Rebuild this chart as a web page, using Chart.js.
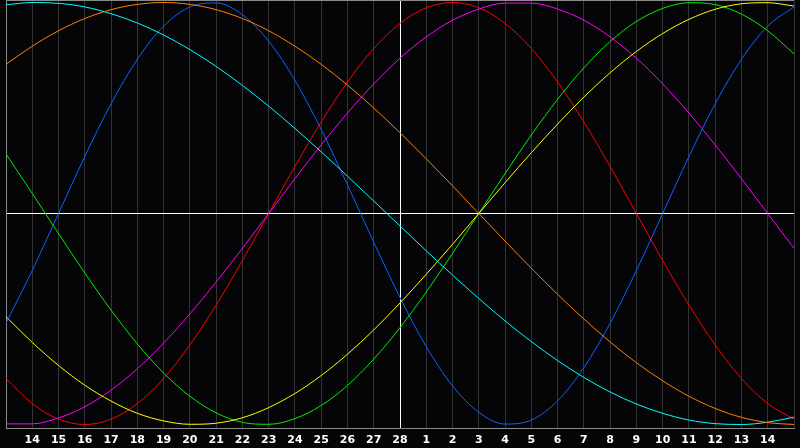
<!DOCTYPE html>
<html>
<head>
<meta charset="utf-8">
<script src="https://cdn.jsdelivr.net/npm/chart.js@4.4.1/dist/chart.umd.min.js"></script>
<style>
html,body{margin:0;padding:0;background:#050508;}
canvas{display:block;}
</style>
</head>
<body>
<canvas id="c" width="800" height="448"></canvas>
<script>
// Day offsets relative to the centre day (28)
const days = [-15,-14,-13,-12,-11,-10,-9,-8,-7,-6,-5,-4,-3,-2,-1,0,1,2,3,4,5,6,7,8,9,10,11,12,13,14,15];
// Tick labels for days -14..14
const tickLabels = ['14','15','16','17','18','19','20','21','22','23','24','25','26','27','28','1','2','3','4','5','6','7','8','9','10','11','12','13','14'];

const blueVals    = [-0.520,-0.270,0,0.270,0.520,0.731,0.888,0.979,0.998,0.942,0.817,0.631,0.398,0.136,-0.136,-0.398,-0.631,-0.817,-0.942,-0.998,-0.979,-0.888,-0.731,-0.520,-0.270,0,0.270,0.520,0.731,0.888,0.979];
const redVals     = [-0.782,-0.901,-0.975,-1,-0.975,-0.901,-0.782,-0.623,-0.434,-0.223,0,0.223,0.434,0.623,0.782,0.901,0.975,1,0.975,0.901,0.782,0.623,0.434,0.223,0,-0.223,-0.434,-0.623,-0.782,-0.901,-0.975];
const greenVals   = [0.282,0.095,-0.095,-0.282,-0.458,-0.618,-0.756,-0.866,-0.945,-0.990,-0.999,-0.972,-0.910,-0.815,-0.690,-0.541,-0.372,-0.189,0,0.189,0.372,0.541,0.690,0.815,0.910,0.972,0.999,0.990,0.945,0.866,0.756];
const magentaVals = [-0.997,-0.997,-0.969,-0.916,-0.837,-0.736,-0.614,-0.476,-0.325,-0.165,0,0.165,0.325,0.476,0.614,0.736,0.837,0.916,0.969,0.997,0.997,0.969,0.916,0.837,0.736,0.614,0.476,0.325,0.165,0,-0.165];
const yellowVals  = [-0.489,-0.611,-0.720,-0.814,-0.889,-0.947,-0.983,-0.999,-0.994,-0.968,-0.920,-0.853,-0.768,-0.667,-0.552,-0.424,-0.288,-0.146,0,0.146,0.288,0.424,0.552,0.667,0.768,0.853,0.920,0.968,0.994,0.999,0.983];
const orangeVals  = [0.707,0.793,0.866,0.924,0.966,0.991,1,0.991,0.966,0.924,0.866,0.793,0.707,0.609,0.5,0.383,0.259,0.131,0,-0.131,-0.259,-0.383,-0.5,-0.609,-0.707,-0.793,-0.866,-0.924,-0.966,-0.991,-1];
const cyanVals    = [0.989,1.000,0.996,0.979,0.947,0.903,0.846,0.777,0.697,0.607,0.509,0.403,0.292,0.177,0.059,-0.059,-0.177,-0.292,-0.403,-0.509,-0.607,-0.697,-0.777,-0.846,-0.903,-0.947,-0.979,-0.996,-1.000,-0.989,-0.965];

function pts(vals){ return days.map((d,i)=>({x:d,y:vals[i]})); }
function ds(vals,color){
  return {data:pts(vals),borderColor:color,borderWidth:1,pointRadius:0,cubicInterpolationMode:'monotone',fill:false};
}

const bgPlugin = {
  id:'bg',
  beforeDraw(chart){
    const c=chart.ctx;
    c.save();
    c.fillStyle='#050508';
    c.fillRect(0,0,chart.width,chart.height);
    c.restore();
  },
  afterDraw(chart){
    const c=chart.ctx, a=chart.chartArea;
    c.save();
    c.strokeStyle='#8a8a8a';
    c.lineWidth=1;
    c.beginPath();
    c.moveTo(a.left,0.5);
    c.lineTo(a.right,0.5);
    c.stroke();
    c.restore();
  }
};

new Chart(document.getElementById('c'),{
  type:'line',
  data:{datasets:[
    ds(orangeVals,'#ff8000'),
    ds(cyanVals,'#00ffff'),
    ds(blueVals,'#0a64ff'),
    ds(yellowVals,'#ffff00'),
    ds(greenVals,'#00ee00'),
    ds(magentaVals,'#ff00ff'),
    ds(redVals,'#ff0000')
  ]},
  options:{
    responsive:false,
    animation:false,
    devicePixelRatio:1,
    layout:{padding:0},
    plugins:{legend:{display:false},tooltip:{enabled:false}},
    scales:{
      x:{
        type:'linear',min:-15,max:15,
        afterFit(s){ s.height=20; },
        ticks:{
          stepSize:1,autoSkip:false,maxRotation:0,padding:6,
          color:'#ffffff',
          font:{family:'DejaVu Sans',size:11,weight:'bold'},
          callback(v){ const i=v+14; return (i>=0 && i<tickLabels.length)?tickLabels[i]:''; }
        },
        grid:{
          drawTicks:false,lineWidth:1,
          color(ctx){ const v=ctx.tick&&ctx.tick.value; if(v===0) return '#ffffff'; if(v===-15) return '#8a8a8a'; return '#333336'; }
        },
        border:{display:true,color:'#8a8a8a',width:1}
      },
      y:{
        type:'linear',min:-1.0166,max:1.0118,
        afterFit(s){ s.width=0; },
        afterBuildTicks(s){ s.ticks=[{value:0}]; },
        ticks:{display:false},
        grid:{drawTicks:false,color:'#ffffff',lineWidth:1},
        border:{display:true,color:'#8a8a8a',width:1}
      }
    }
  },
  plugins:[bgPlugin]
});
</script>
</body>
</html>
